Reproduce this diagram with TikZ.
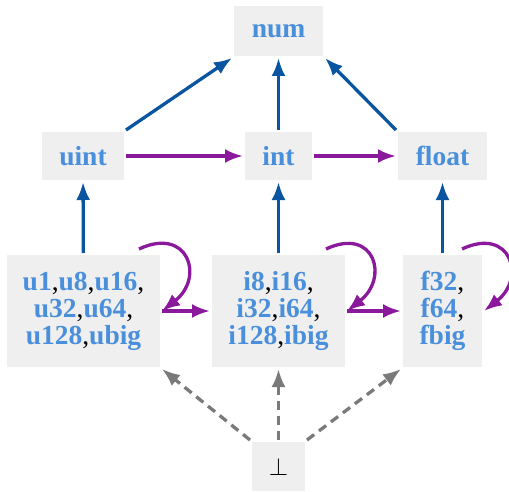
\documentclass[tikz,border=0pt]{standalone}
\usepackage{fontspec}
\setmainfont{Liberation Serif}
\usetikzlibrary{arrows.meta}
\definecolor{boxfill}{HTML}{EFEFEF}
\definecolor{tyblue}{HTML}{4A8FDB}
\definecolor{edgeblue}{HTML}{0A55A0}
\definecolor{edgepurple}{HTML}{8A1A9B}
\definecolor{edgegray}{HTML}{7A7A7A}
\newcommand\ty[1]{\textcolor{tyblue}{\textbf{#1}}}
\begin{document}
\begin{tikzpicture}[x=1pt,y=1pt,
  box/.style={fill=boxfill, inner sep=0pt, outer sep=2pt, align=center,
    font=\fontsize{27.5}{27}\selectfont},
  tip/.style={-{Latex[length=18pt,width=14pt]}},
  up/.style={tip, draw=edgeblue, line width=3.3pt},
  widen/.style={tip, draw=edgepurple, line width=3.3pt},
  selfloop/.style={tip, draw=edgepurple, line width=3.3pt},
  bottomedge/.style={tip, draw=edgegray, line width=3.3pt, dash pattern=on 9pt off 6pt}]
\useasboundingbox (0,0) rectangle (509,491);

% type nodes
\node[box, minimum width=89, minimum height=50] (num)   at (278.5,460) {\ty{num}};
\node[box, minimum width=82, minimum height=48] (uint)  at (83,335)    {\ty{uint}};
\node[box, minimum width=67, minimum height=48] (int)   at (278.5,335) {\ty{int}};
\node[box, minimum width=89, minimum height=48] (float) at (442.5,335) {\ty{float}};
\node[box, minimum width=153, minimum height=112] (us) at (83.5,180)
  {\ty{u1},\ty{u8},\ty{u16},\\\ty{u32},\ty{u64},\\\ty{u128},\ty{ubig}};
\node[box, minimum width=133, minimum height=112] (is) at (278.5,180)
  {\ty{i8},\ty{i16},\\\ty{i32},\ty{i64},\\\ty{i128},\ty{ibig}};
\node[box, minimum width=79, minimum height=112] (fs) at (442.5,180)
  {\ty{f32},\\\ty{f64},\\\ty{fbig}};
\node[box, minimum width=53, minimum height=49] (bot) at (278.5,24.5) {$\perp$};

% subtyping edges
\draw[up] (uint.north east) -- (num.south west);
\draw[up] (int) -- (num);
\draw[up] (float.north west) -- (num.south east);
\draw[up] (us) -- (uint);
\draw[up] (is) -- (int);
\draw[up] (fs) -- (float);

% widening edges
\draw[widen] (uint) -- (int);
\draw[widen] (int) -- (float);
\draw[widen] (us) -- (is);
\draw[widen] (is) -- (fs);

% self loops
\draw[selfloop] ([xshift=-23pt,yshift=4pt]us.north east) to[out=25,in=38,looseness=2.1] (us.east);
\draw[selfloop] ([xshift=-21pt,yshift=4pt]is.north east) to[out=25,in=38,looseness=2.1] (is.east);
\draw[selfloop] ([xshift=-22pt,yshift=4pt]fs.north east) to[out=25,in=38,looseness=2.1] (fs.east);

% bottom type
\draw[bottomedge] (bot.north west) -- (us.south east);
\draw[bottomedge] (bot) -- (is);
\draw[bottomedge] (bot.north east) -- (fs.south west);
\end{tikzpicture}
\end{document}
